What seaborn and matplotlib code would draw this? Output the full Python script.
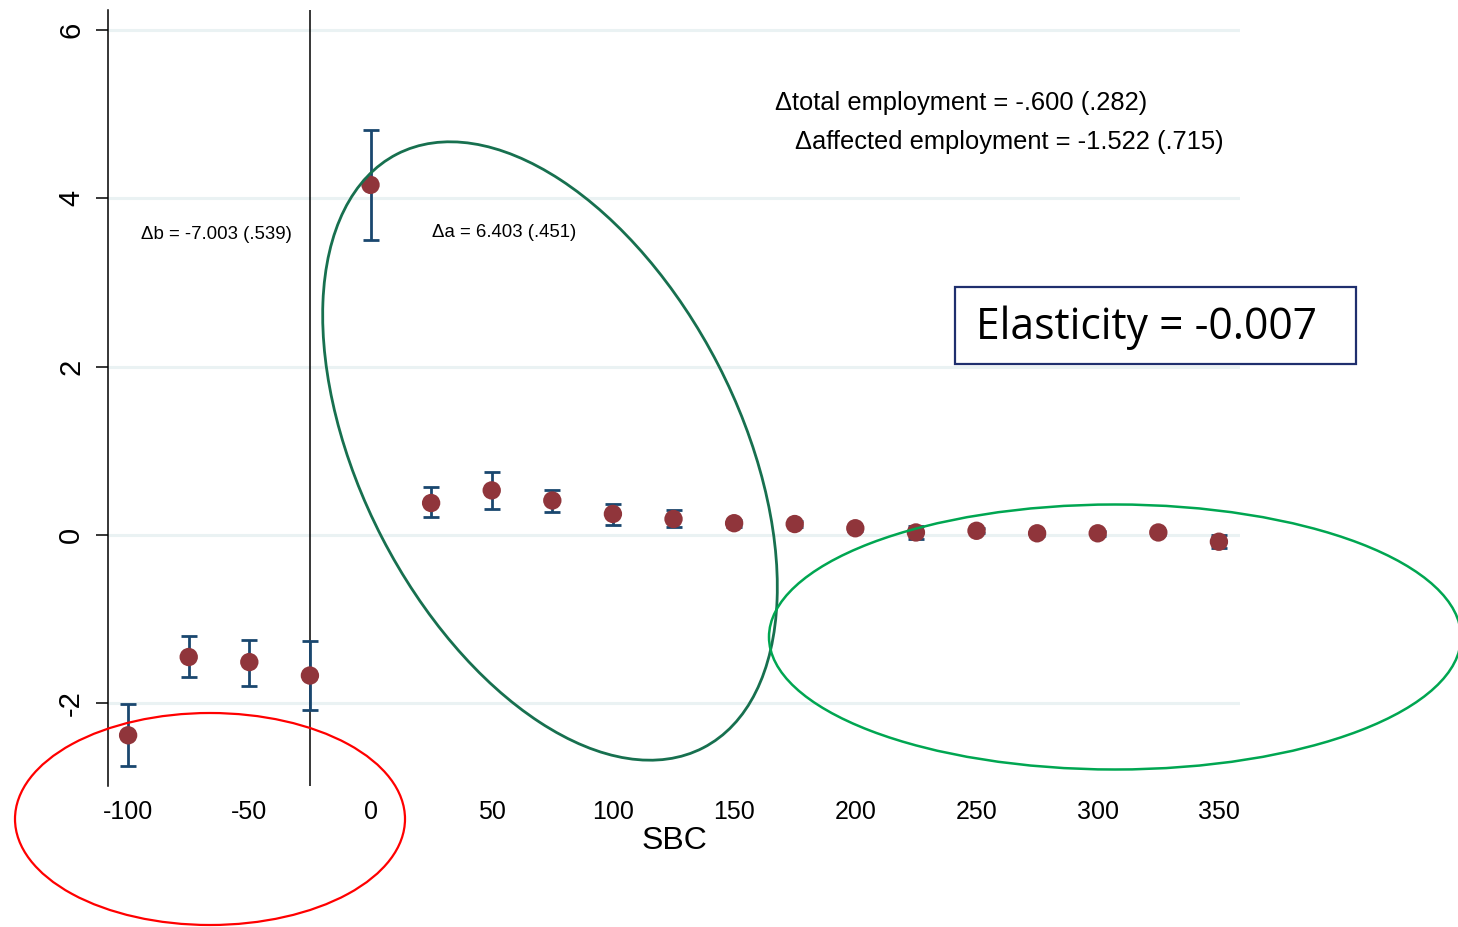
import seaborn as sns
import matplotlib.pyplot as plt
from matplotlib.patches import Ellipse, Rectangle
import numpy as np
import pandas as pd

# bins of SBC and estimated coefficients with 95% CI
sbc = [-100, -75, -50, -25, 0, 25, 50, 75, 100, 125, 150, 175, 200, 225, 250, 275, 300, 325, 350]
coef = [-2.38, -1.45, -1.51, -1.67, 4.16, 0.38, 0.53, 0.41, 0.25, 0.19, 0.14, 0.13, 0.08, 0.03, 0.05, 0.02, 0.02, 0.03, -0.08]
ci_low = [-2.74, -1.69, -1.79, -2.08, 3.51, 0.21, 0.31, 0.27, 0.12, 0.09, 0.10, 0.09, 0.05, -0.05, 0.02, -0.01, -0.01, 0.00, -0.16]
ci_high = [-2.01, -1.20, -1.25, -1.26, 4.81, 0.57, 0.75, 0.54, 0.37, 0.30, 0.18, 0.17, 0.11, 0.11, 0.08, 0.05, 0.05, 0.06, 0.00]
xticks = [-100, -50, 0, 50, 100, 150, 200, 250, 300, 350]
yticks = [-2, 0, 2, 4, 6]

df = pd.DataFrame({"SBC": sbc, "coef": coef, "lo": ci_low, "hi": ci_high})

sns.set_style("white")
plt.rcParams["font.family"] = ["Liberation Sans", "DejaVu Sans"]
plt.rcParams["axes.unicode_minus"] = False
plt.rcParams["text.color"] = "black"
plt.rcParams["xtick.color"] = "black"
plt.rcParams["ytick.color"] = "black"
plt.rcParams["axes.labelcolor"] = "black"

fig = plt.figure(figsize=(14.58, 9.27), dpi=100)
ax = fig.add_axes([108 / 1458, 1 - 785.7 / 927, (1240 - 108) / 1458, (785.7 - 10) / 927])

for y in yticks:
    ax.axhline(y, color="#eaf2f3", lw=2.2, zorder=0)
ax.axvline(-25, color="black", lw=1.1, zorder=1)

ax.errorbar(df["SBC"], df["coef"],
            yerr=[df["coef"] - df["lo"], df["hi"] - df["coef"]],
            fmt="none", ecolor="#1a476f", elinewidth=2, capsize=6, capthick=2, zorder=2)
sns.scatterplot(data=df, x="SBC", y="coef", ax=ax, color="#90353b", s=175,
                edgecolor="none", zorder=3)

ax.set_xlim(-108.3, 358.7)
ax.set_ylim(-2.979, 6.238)
ax.set_xticks(xticks)
ax.set_yticks(yticks)
ax.tick_params(axis="x", length=0, pad=10, labelsize=18)
ax.tick_params(axis="y", length=8.5, width=1.1, pad=8, labelsize=21, labelrotation=90, left=True)
for lab in ax.get_yticklabels():
    lab.set_va("center")
ax.set_xlabel("SBC", fontsize=23, labelpad=2)
ax.set_ylabel("")
for side in ["top", "right", "bottom"]:
    ax.spines[side].set_visible(False)
ax.spines["left"].set_color("black")
ax.spines["left"].set_linewidth(1.1)

# overlay in pixel coordinates for annotations
ov = fig.add_axes([0, 0, 1, 1], facecolor="none")
ov.set_xlim(0, 1458)
ov.set_ylim(927, 0)
ov.axis("off")

ov.text(775, 103, "\u0394total employment = -.600 (.282)", fontsize=18.4, va="center", ha="left")
ov.text(795, 142, "\u0394affected employment = -1.522 (.715)", fontsize=18.4, va="center", ha="left")
ov.text(141, 234, "\u0394b = -7.003 (.539)", fontsize=13.4, va="center", ha="left")
ov.text(432, 232, "\u0394a = 6.403 (.451)", fontsize=13.4, va="center", ha="left")

ov.add_patch(Rectangle((955, 287), 401, 77, fill=False, edgecolor="#1f2f6e", lw=1.6))
ov.text(976, 328, "Elasticity = -0.007", fontsize=30.7, va="center", ha="left",
        family=["Open Sans", "DejaVu Sans"])

ov.add_patch(Ellipse((210, 819), 390, 212, fill=False, edgecolor="#ff0000", lw=1.6))
ov.add_patch(Ellipse((550, 451), 668, 378, angle=62.7, fill=False, edgecolor="#17704f", lw=2))
ov.add_patch(Ellipse((1115, 637), 692, 265, fill=False, edgecolor="#00a651", lw=1.8))

fig.savefig("out.png", dpi=100)
